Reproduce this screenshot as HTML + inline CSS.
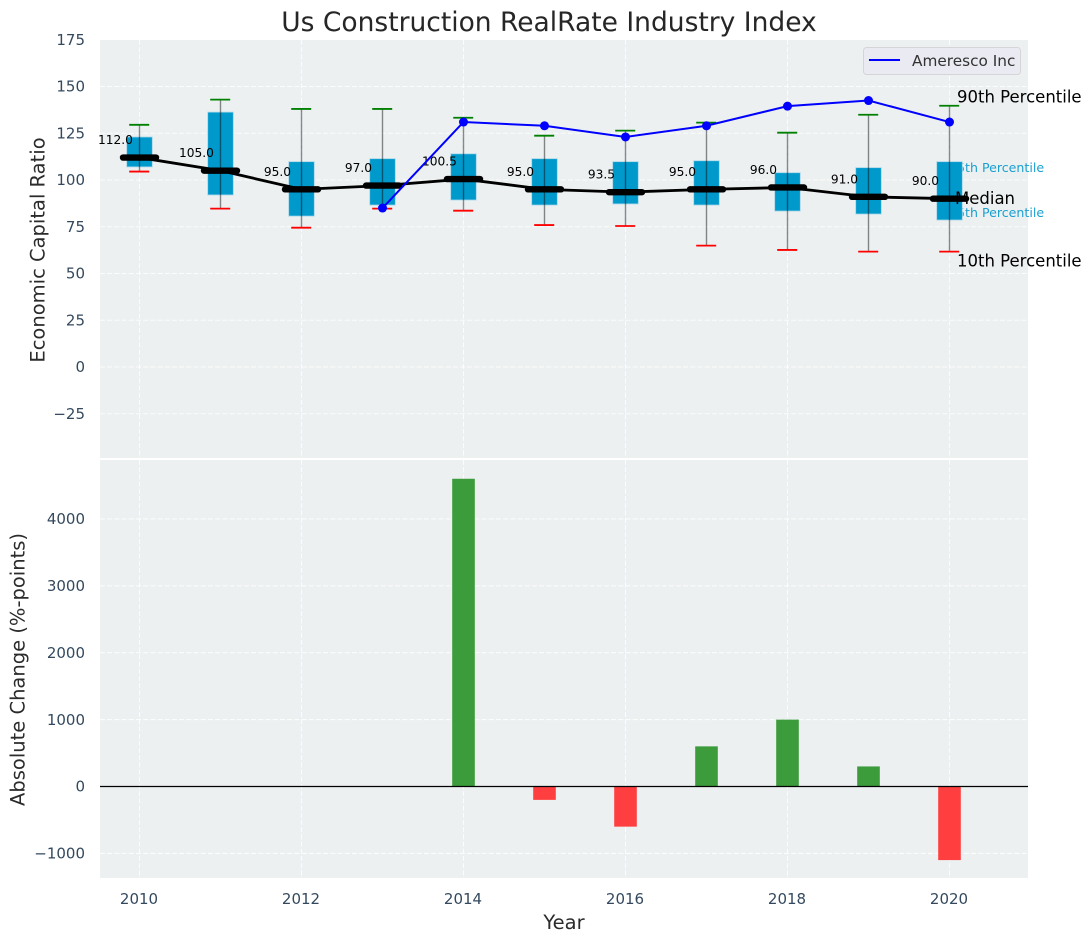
<!DOCTYPE html>
<html>
<head>
<meta charset="utf-8">
<title>Us Construction RealRate Industry Index</title>
<style>
html,body{margin:0;padding:0;background:#fff;}
svg{display:block;font-family:"DejaVu Sans","Liberation Sans",sans-serif;}
.tick{font-size:15px;fill:#34495e;}
.axis-title{font-size:19.5px;fill:#2b2b2b;}
</style>
</head>
<body>
<svg id="chart" xmlns="http://www.w3.org/2000/svg" width="1092" height="942" viewBox="0 0 1092 942">
  <rect x="0" y="0" width="1092" height="942" fill="#ffffff"/>
  <rect x="100" y="40" width="928" height="418" fill="#ecf0f1"/>
  <rect x="100" y="460" width="928" height="418" fill="#ecf0f1"/>
  <g id="grid"></g>
  <g id="behind">
    <text x="949" y="172" font-size="12.6px" fill="#1ba0cf">75th Percentile</text>
    <text x="949" y="217" font-size="12.6px" fill="#1ba0cf">25th Percentile</text>
  </g>
  <g id="marks"></g>
  <g id="bars"></g>
  <line x1="100" x2="1028" y1="786.5" y2="786.5" stroke="#000" stroke-width="1.3"/>
  <g id="ticks"></g>
  <text x="957" y="102.5" font-size="16.5px" fill="#000">90th Percentile</text>
  <text x="955" y="204" font-size="16.5px" fill="#000">Median</text>
  <text x="957" y="266.5" font-size="16.5px" fill="#000">10th Percentile</text>
  <text x="549" y="31" text-anchor="middle" font-size="26.5px" fill="#262626">Us Construction RealRate Industry Index</text>
  <text class="axis-title" transform="translate(44.5,250) rotate(-90)" text-anchor="middle">Economic Capital Ratio</text>
  <text class="axis-title" transform="translate(24.5,669.5) rotate(-90)" text-anchor="middle">Absolute Change (%-points)</text>
  <text class="axis-title" x="564" y="929" text-anchor="middle">Year</text>
  <g>
    <rect x="863.5" y="47.5" width="157" height="27" rx="3" fill="#eaeaf2" stroke="#d5d5d8" stroke-width="1"/>
    <line x1="869" x2="900" y1="60" y2="60" stroke="#0000ff" stroke-width="2"/>
    <text x="912" y="66" font-size="15.3px" fill="#333">Ameresco Inc</text>
  </g>
</svg>
<script>
var years = [2010, 2011, 2012, 2013, 2014, 2015, 2016, 2017, 2018, 2019, 2020];
var p90 = [129.5, 143, 138, 138, 133.3, 123.7, 126.4, 130.7, 125.3, 134.9, 139.7];
var p75 = [123, 136.3, 109.8, 111.4, 114, 111.4, 109.8, 110.3, 103.9, 106.6, 109.8];
var median = [112, 105, 95, 97, 100.5, 95, 93.5, 95, 96, 91, 90];
var p25 = [107, 92, 80.7, 86.6, 89.3, 86.6, 87.2, 86.6, 83.4, 81.8, 78.6];
var p10 = [104.5, 84.7, 74.5, 84.7, 83.6, 75.9, 75.4, 64.9, 62.6, 61.7, 61.7];
var companyYears = [2013, 2014, 2015, 2016, 2017, 2018, 2019, 2020];
var companyValues = [85, 131, 129, 123, 129, 139.5, 142.5, 131];
var changeYears = [2014, 2015, 2016, 2017, 2018, 2019, 2020];
var changeValues = [4600, -200, -600, 600, 1000, 300, -1100];
var topTicks = [175, 150, 125, 100, 75, 50, 25, 0, -25];
var bottomTicks = [4000, 3000, 2000, 1000, 0, -1000];
var xTicks = [2010, 2012, 2014, 2016, 2018, 2020];

var NS = 'http://www.w3.org/2000/svg';
function xScale(v) { return 139.5 + (v - 2010) * 81; }
function yTop(v) { return 367 - v * 1.87; }
function yBottom(v) { return 786.5 - v * 0.0669; }
function make(parent, tag, props) {
  var el = document.createElementNS(NS, tag);
  for (var k in props) { el.setAttribute(k, props[k]); }
  parent.appendChild(el);
  return el;
}
function minusText(v) { return v < 0 ? '\u2212' + Math.abs(v) : String(v); }

var grid = document.getElementById('grid');
var marks = document.getElementById('marks');
var bars = document.getElementById('bars');
var ticks = document.getElementById('ticks');
var gridStyle = { stroke: '#ffffff', 'stroke-opacity': 0.8, 'stroke-width': 1.1, 'stroke-dasharray': '5 2.2', fill: 'none' };

xTicks.forEach(function (t) {
  [[40, 458], [460, 878]].forEach(function (span) {
    var g = make(grid, 'line', Object.assign({ x1: xScale(t), x2: xScale(t), y1: span[0], y2: span[1] }, gridStyle));
    
    
  });
  var lab = make(ticks, 'text', { x: xScale(t) - 0.5, y: 904, 'text-anchor': 'middle', 'class': 'tick' });
  lab.textContent = String(t);
  
  
});
topTicks.forEach(function (t) {
  var y = yTop(t);
  if (t !== 175) {
    var g = make(grid, 'line', Object.assign({ x1: 100, x2: 1028, y1: y, y2: y }, gridStyle));
    
    
  }
  var lab = make(ticks, 'text', { x: 85, y: y + 5.2, 'text-anchor': 'end', 'class': 'tick' });
  lab.textContent = minusText(t);
  
  
});
bottomTicks.forEach(function (t) {
  var y = yBottom(t);
  var g = make(grid, 'line', Object.assign({ x1: 100, x2: 1028, y1: y, y2: y }, gridStyle));
  
  
  var lab = make(ticks, 'text', { x: 85, y: y + 5.2, 'text-anchor': 'end', 'class': 'tick' });
  lab.textContent = minusText(t);
  
  
});

years.forEach(function (yr, i) {
  var x = xScale(yr);
  var box = make(marks, 'rect', { x: x - 12.8, y: yTop(p75[i]), width: 25.6, height: yTop(p25[i]) - yTop(p75[i]), fill: '#0099cc', stroke: '#a9d7e8', 'stroke-width': 0.8 });
  
  
  var whisk = make(marks, 'line', { x1: x, x2: x, y1: yTop(p90[i]), y2: yTop(p10[i]), stroke: '#000', 'stroke-opacity': 0.45, 'stroke-width': 1.4 });
  
  
  var capHi = make(marks, 'line', { x1: x - 10.3, x2: x + 9.7, y1: yTop(p90[i]), y2: yTop(p90[i]), stroke: '#008000', 'stroke-width': 1.8 });
  
  
  var capLo = make(marks, 'line', { x1: x - 10.3, x2: x + 9.7, y1: yTop(p10[i]), y2: yTop(p10[i]), stroke: '#ff0000', 'stroke-width': 1.8 });
  
  
});

var medianPoints = years.map(function (yr, i) { return xScale(yr) + ',' + yTop(median[i]); }).join(' ');
var medLine = make(marks, 'polyline', { points: medianPoints, fill: 'none', stroke: '#000', 'stroke-width': 2.8 });



years.forEach(function (yr, i) {
  var x = xScale(yr), y = yTop(median[i]);
  var dash = make(marks, 'line', { x1: x - 16.5, x2: x + 16.5, y1: y, y2: y, stroke: '#000', 'stroke-width': 6.4, 'stroke-linecap': 'round' });
  
  
  var lab = make(marks, 'text', { x: x - 24, y: y - 13.5, 'text-anchor': 'middle', 'font-size': '12.2px', fill: '#000' });
  lab.textContent = median[i].toFixed(1);
  
  
});

var companyPoints = companyYears.map(function (yr, i) { return xScale(yr) + ',' + yTop(companyValues[i]); }).join(' ');
var compLine = make(marks, 'polyline', { points: companyPoints, fill: 'none', stroke: '#0000ff', 'stroke-width': 2 });


companyYears.forEach(function (yr, i) {
  var dot = make(marks, 'circle', { cx: xScale(yr), cy: yTop(companyValues[i]), r: 4.5, fill: '#0000ff' });
  
  
});

changeYears.forEach(function (yr, i) {
  var v = changeValues[i];
  var y0 = yBottom(0), y1 = yBottom(v);
  var bar = make(bars, 'rect', { x: xScale(yr) - 11.3, y: Math.min(y0, y1), width: 22.6, height: Math.abs(y1 - y0), fill: v >= 0 ? '#3c9c3c' : '#ff3f3f' });
  
  
});
</script>
</body>
</html>
